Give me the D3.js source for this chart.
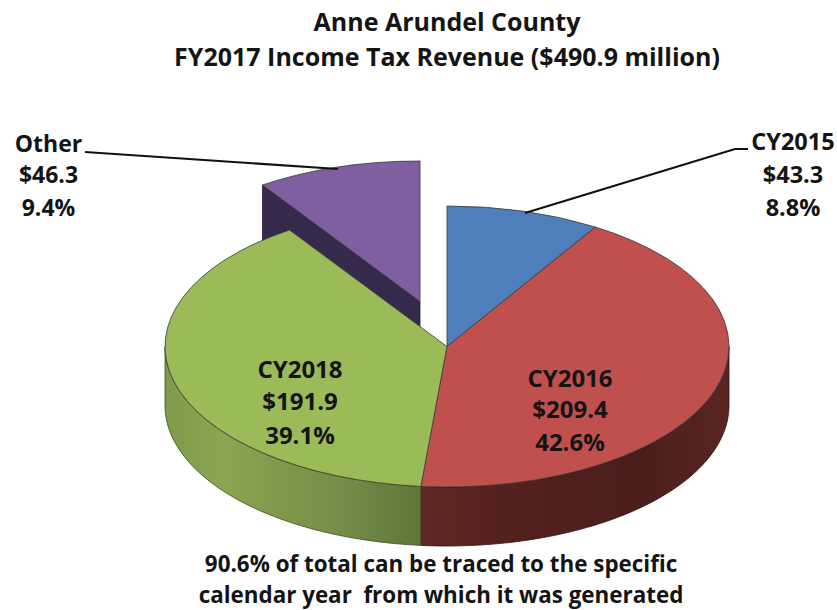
<!DOCTYPE html>
<html>
<head>
<meta charset="utf-8">
<script src="https://cdnjs.cloudflare.com/ajax/libs/d3/7.8.5/d3.min.js"></script>
<style>
  html, body { margin: 0; padding: 0; background: #fff; }
  svg { display: block; }
  text { font-family: "Open Sans", "Noto Sans", sans-serif; font-weight: 700; fill: #141414; white-space: pre; }
</style>
</head>
<body>
<div id="chart"></div>
<script>
var categories = ["CY2015", "CY2016", "CY2018", "Other"];
var amounts = [43.3, 209.4, 191.9, 46.3];
var amountLabels = ["$43.3", "$209.4", "$191.9", "$46.3"];
var percentLabels = ["8.8%", "42.6%", "39.1%", "9.4%"];
var topColors = ["#4f7fbb", "#bf504d", "#9bbb59", "#7f5f9f"];
var titleLines = ["Anne Arundel County", "FY2017 Income Tax Revenue ($490.9 million)"];
var noteLines = ["90.6% of total can be traced to the specific", "calendar year  from which it was generated"];

var width = 837, height = 610;
var cx = 447, cy = 346.5, rx = 282, ry = 140.5, depth = 59;

var svg = d3.select("#chart").append("svg")
    .attr("width", width)
    .attr("height", height);

var defs = svg.append("defs");

function addGradient(id, stops) {
    var g = defs.append("linearGradient").attr("id", id)
        .attr("gradientUnits", "userSpaceOnUse")
        .attr("x1", cx - rx).attr("x2", cx + rx)
        .attr("y1", 0).attr("y2", 0);
    stops.forEach(function (s) {
        g.append("stop").attr("offset", s[0]).attr("stop-color", s[1]);
    });
}
addGradient("wallGreen", [[0, "#7f9a49"], [0.1, "#89a651"], [0.2, "#80994b"], [0.3, "#76904a"], [0.46, "#5e7438"]]);
addGradient("wallRed", [[0.46, "#5f2725"], [0.6, "#54211e"], [0.85, "#4a1e1c"], [1, "#5a2624"]]);

var pie = d3.pie().sort(null).value(function (d) { return d; });
var slices = pie(amounts);

// offset of each slice, only Other is pulled out
var offsets = [[0, 0], [0, 0], [0, 0], [-27, -45]];

function px(i, a) { return cx + offsets[i][0] + rx * Math.sin(a); }
function py(i, a) { return cy + offsets[i][1] - ry * Math.cos(a); }

var line = d3.line();

// side wall along the rim between two angles
function wallPath(i, a0, a1) {
    var steps = d3.range(0, 61).map(function (k) { return a0 + (a1 - a0) * k / 60; });
    var upper = steps.map(function (a) { return [px(i, a), py(i, a)]; });
    var lower = steps.slice().reverse().map(function (a) { return [px(i, a), py(i, a) + depth]; });
    return line(upper.concat(lower)) + "Z";
}

var arc = d3.arc().innerRadius(0).outerRadius(rx);

function drawTop(i) {
    svg.append("path")
        .attr("d", arc(slices[i]))
        .attr("transform", "translate(" + (cx + offsets[i][0]) + "," + (cy + offsets[i][1]) + ") scale(1," + (ry / rx) + ")")
        .attr("fill", topColors[i])
        .attr("stroke", "#3a3a3a")
        .attr("stroke-width", 0.8)
        .attr("vector-effect", "non-scaling-stroke");
}

// Other slice first, it sits behind the rest
var o = slices[3];
var ox = cx + offsets[3][0], oy = cy + offsets[3][1];
svg.append("path")
    .attr("d", line([[ox, oy], [px(3, o.startAngle), py(3, o.startAngle)],
        [px(3, o.startAngle), py(3, o.startAngle) + depth], [ox, oy + depth]]) + "Z")
    .attr("fill", "#362a4c")
    .attr("stroke", "#2a2038")
    .attr("stroke-width", 0.8);
drawTop(3);

// visible front walls
var rightEdge = Math.PI / 2;
var leftEdge = Math.PI * 1.5;
svg.append("path").attr("d", wallPath(1, rightEdge, slices[1].endAngle))
    .attr("fill", "url(#wallRed)").attr("stroke", "#2e1211").attr("stroke-width", 0.8);
svg.append("path").attr("d", wallPath(2, slices[2].startAngle, leftEdge))
    .attr("fill", "url(#wallGreen)").attr("stroke", "#3d4c22").attr("stroke-width", 0.8);

drawTop(0);
drawTop(1);
drawTop(2);

// leader lines
var leaders = [
    [[525, 213], [735, 149], [748, 149]],
    [[85, 152], [338, 169]]
];
leaders.forEach(function (pts) {
    svg.append("path").attr("d", line(pts))
        .attr("fill", "none").attr("stroke", "#111").attr("stroke-width", 2.2);
});

function textBlock(x, ys, lines, size) {
    lines.forEach(function (t, k) {
        svg.append("text")
            .attr("x", x).attr("y", ys[k])
            .attr("text-anchor", "middle")
            .attr("font-size", size)
            .text(t);
    });
}

function sliceLines(i) { return [categories[i], amountLabels[i], percentLabels[i]]; }

textBlock(447, [31, 66], titleLines, 25);
textBlock(793, [150, 183, 216], sliceLines(0), 23.5);
textBlock(48.5, [152, 183, 216], sliceLines(3), 23);
textBlock(300, [378, 410, 444], sliceLines(2), 24);
textBlock(570, [387, 418, 451], sliceLines(1), 24);
textBlock(441, [572, 603], noteLines, 22.4);
</script>
</body>
</html>
